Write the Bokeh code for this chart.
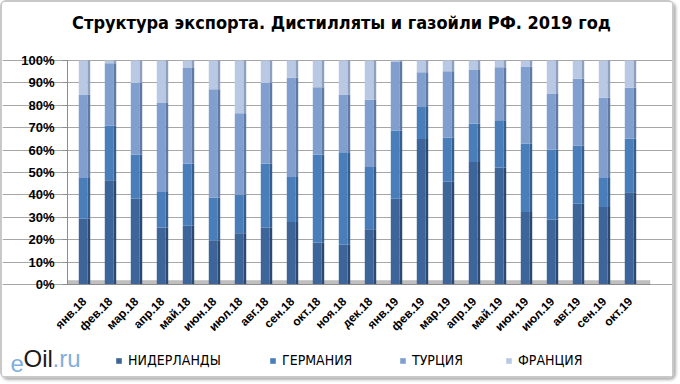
from bokeh.plotting import figure
from bokeh.models import (Range1d, PrintfTickFormatter, Legend, LegendItem,
                          Label, BoxAnnotation, FixedTicker)
from bokeh.transform import dodge
from bokeh.embed import file_html
from bokeh.resources import INLINE
import math

months = ["янв.18", "фев.18", "мар.18", "апр.18", "май.18", "июн.18", "июл.18",
          "авг.18", "сен.18", "окт.18", "ноя.18", "дек.18", "янв.19", "фев.19",
          "мар.19", "апр.19", "май.19", "июн.19", "июл.19", "авг.19", "сен.19", "окт.19"]
series = ["НИДЕРЛАНДЫ", "ГЕРМАНИЯ", "ТУРЦИЯ", "ФРАНЦИЯ"]

nid = [29.4, 46.5, 38.3, 25.4, 26.2, 19.8, 22.9, 25.3, 27.9, 18.7, 17.7,
       24.7, 38.3, 65.0, 45.9, 54.7, 52.2, 32.4, 29.0, 36.1, 34.6, 41.2]
ger = [18.1, 24.5, 19.7, 15.9, 27.7, 19.0, 17.2, 28.6, 20.1, 39.3, 41.3,
       27.8, 30.5, 14.2, 19.6, 17.1, 21.1, 30.5, 31.3, 26.0, 12.9, 24.0]
tur = [37.3, 27.8, 31.9, 39.7, 42.8, 48.4, 36.4, 36.1, 44.3, 30.1, 25.8,
       30.0, 30.5, 15.5, 29.7, 24.0, 23.7, 34.4, 24.8, 29.7, 35.9, 22.6]
fra = [15.2, 1.2, 10.1, 19.0, 3.3, 12.8, 23.5, 10.0, 7.7, 11.9, 15.2,
       17.5, 0.7, 5.3, 4.8, 4.2, 3.0, 2.7, 14.9, 8.2, 16.6, 12.2]
y_ticks = [0, 10, 20, 30, 40, 50, 60, 70, 80, 90, 100]

front_colors = ["#3D6599", "#4A7EBB", "#809FCE", "#B9C8E3"]
side_colors = ["#2B4A72", "#365E8E", "#5F7BA5", "#8E9FBF"]

COND = "'DejaVu Sans Condensed', 'Liberation Sans', sans-serif"

W, H = 674, 378
# pixel layout of the plotting region inside the canvas
X0_PX, STEP_PX = 82.0, 26.0          # centre of first bar, spacing between bars
Y0_PX, Y100_PX = 282.0, 58.0         # canvas y of 0% and 100%
ppu = (Y0_PX - Y100_PX) / 100.0

xs = list(range(len(months)))
data = {"x": xs, series[0]: nid, series[1]: ger, series[2]: tur, series[3]: fra}

p = figure(width=W, height=H,
           x_range=Range1d(-X0_PX / STEP_PX, (W - X0_PX) / STEP_PX),
           y_range=Range1d(-(H - Y0_PX) / ppu, Y0_PX / ppu),
           output_backend="svg", toolbar_location=None,
           min_border_left=0, min_border_right=0, min_border_top=0, min_border_bottom=0)

x_left = -0.65
x_right = len(months) - 1 + 0.75

floor = BoxAnnotation(bottom=0, top=1.8, left=x_left, right=x_right, fill_color="#BFBFBF",
                      fill_alpha=1.0, line_color="#A0A0A0", level="underlay")
p.add_layout(floor)

front = p.vbar_stack(series, x=dodge("x", -0.05, range=p.x_range), width=0.34,
                     color=front_colors, source=data, line_color=None)
p.vbar_stack(series, x=dodge("x", 0.17, range=p.x_range), width=0.10,
             color=side_colors, source=data, line_color=None)

p.xgrid.grid_line_color = None
p.ygrid.grid_line_color = "#A6A6A6"
p.ygrid.grid_line_width = 1
p.ygrid.ticker = FixedTicker(ticks=y_ticks)
p.ygrid.bounds = (x_left, x_right)
p.outline_line_color = None

p.yaxis.fixed_location = x_left
p.yaxis.bounds = (0, 100)
p.yaxis.ticker = FixedTicker(ticks=y_ticks)
p.yaxis.formatter = PrintfTickFormatter(format="%d%%")
p.yaxis.major_label_text_font = "Liberation Sans"
p.yaxis.major_label_text_font_style = "bold"
p.yaxis.major_label_text_font_size = "13px"
p.yaxis.major_label_text_color = "#000000"
p.yaxis.axis_line_color = "#8C8C8C"
p.yaxis.major_tick_line_color = "#8C8C8C"
p.yaxis.major_tick_out = 5
p.yaxis.major_tick_in = 0
p.yaxis.minor_tick_line_color = None
p.yaxis.major_label_standoff = 8

p.xaxis.fixed_location = 0
p.xaxis.bounds = (x_left, x_right)
p.xaxis.ticker = FixedTicker(ticks=xs)
p.xaxis.major_label_overrides = {i: m for i, m in zip(xs, months)}
p.xaxis.major_label_orientation = math.pi / 4
p.xaxis.major_label_text_font = "Liberation Sans"
p.xaxis.major_label_text_font_style = "bold"
p.xaxis.major_label_text_font_size = "12px"
p.xaxis.major_label_text_color = "#000000"
p.xaxis.axis_line_color = "#8C8C8C"
p.xaxis.major_tick_line_color = None
p.xaxis.minor_tick_line_color = None
p.xaxis.major_label_standoff = 9

p.add_layout(Label(x=339, y=H - 20, x_units="screen", y_units="screen",
                   text="Структура экспорта. Дистилляты и газойли РФ. 2019 год",
                   text_font=COND, text_font_size="18px", text_font_style="bold",
                   text_align="center", text_baseline="middle", text_color="#000000"))

legend_x = [113, 267, 397, 503]
for s, r, lx in zip(series, front, legend_x):
    lg = Legend(items=[LegendItem(label=s, renderers=[r])], location=(lx, 12),
                glyph_width=7, glyph_height=7, label_standoff=6,
                label_text_font=COND, label_text_font_size="14px",
                label_text_color="#000000", background_fill_alpha=0,
                border_line_color=None, padding=0, margin=0)
    p.add_layout(lg, "center")

logo_font = "Liberation Sans"
for txt, xx, col in [("e", 8, "#7FAEDF"), ("Oil", 21, "#1A1A1A"), (".ru", 50, "#7FAEDF")]:
    p.add_layout(Label(x=xx, y=9, x_units="screen", y_units="screen", text=txt,
                       text_font=logo_font, text_font_size="24px", text_color=col,
                       text_baseline="bottom"))

p.styles = {"border": "2px solid #C8C8C8", "border-radius": "6px",
            "box-shadow": "2px 2px 3px #B0B0B0"}

open("out.html", "w").write(file_html(p, INLINE))
